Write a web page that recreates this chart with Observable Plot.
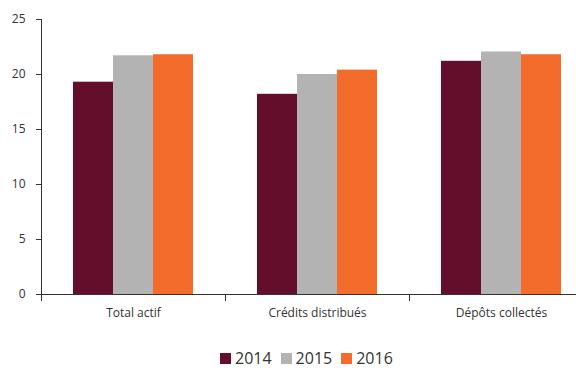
<!DOCTYPE html>
<html>
<head>
<meta charset="utf-8">
<script src="https://cdn.jsdelivr.net/npm/d3@7"></script>
<script src="https://cdn.jsdelivr.net/npm/@observablehq/plot@0.6"></script>
<style>
  html, body { margin: 0; padding: 0; background: #fff; overflow: hidden; width: 576px; }
  #chart svg { overflow: hidden; display: block; }
  .legend { display: flex; align-items: center; margin-left: 220px; margin-top: 19px;
            font-family: "Open Sans", sans-serif; font-size: 16px; color: #333; line-height: 18px; }
  .legend .item { display: flex; align-items: center; margin-right: 9px; }
  .legend .sw { width: 11px; height: 11px; margin-right: 4px; }
</style>
</head>
<body>
<div id="chart"></div>
<div class="legend" id="legend"></div>
<script>
const categories = ["Total actif", "Crédits distribués", "Dépôts collectés"];
const years = ["2014", "2015", "2016"];
const v2014 = [19.3, 18.2, 21.2];
const v2015 = [21.7, 20.0, 22.05];
const v2016 = [21.8, 20.4, 21.8];
const yTicks = [0, 5, 10, 15, 20, 25];
const colors = ["#630e2b", "#b3b3b3", "#f36c2c"];

const series = [v2014, v2015, v2016];
const data = categories.flatMap((c, i) =>
  years.map((y, j) => ({category: c, year: y, value: series[j][i]}))
);

const chart = Plot.plot({
  width: 576,
  height: 330,
  marginTop: 19,
  marginBottom: 36,
  marginLeft: 41,
  marginRight: -17,
  style: {fontFamily: "Open Sans, sans-serif", fontSize: "12px", color: "#333", background: "#fff"},
  fx: {domain: categories, padding: 0, label: null},
  x: {domain: years, paddingInner: 0, paddingOuter: 0.77, axis: null},
  y: {domain: [0, 25]},
  color: {domain: years, range: colors},
  marks: [
    Plot.barY(data, {fx: "category", x: "year", y: "value", fill: "year"}),
    Plot.ruleY([0], {stroke: "#333", strokeWidth: 1}),
    Plot.frame({anchor: "left", insetTop: 275, insetBottom: -6, stroke: "#333"}),
    Plot.frame({anchor: "left", facet: "super", stroke: "#333"}),
    Plot.axisY({ticks: yTicks, tickSize: 5, tickPadding: 11, label: null, stroke: "#333", fill: "#333"}),
    Plot.axisFx({anchor: "bottom", tickSize: 0, tickPadding: 14, label: null, fill: "#333"})
  ]
});
document.getElementById("chart").appendChild(chart);

const legend = document.getElementById("legend");
years.forEach((y, i) => {
  const item = document.createElement("div");
  item.className = "item";
  const sw = document.createElement("div");
  sw.className = "sw";
  sw.style.background = colors[i];
  const t = document.createElement("span");
  t.textContent = y;
  item.appendChild(sw);
  item.appendChild(t);
  legend.appendChild(item);
});
</script>
</body>
</html>
